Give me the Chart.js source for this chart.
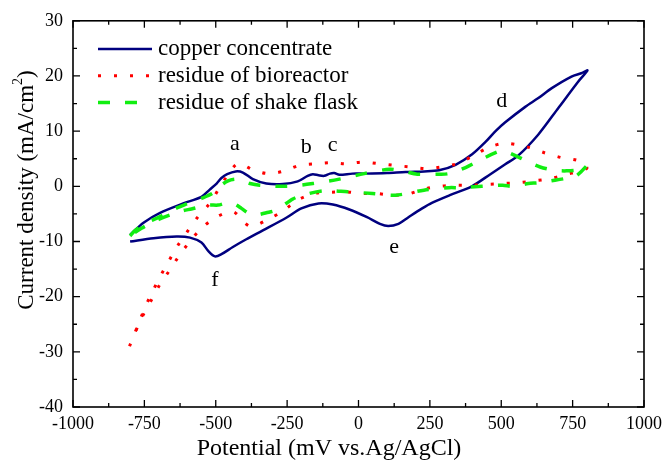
<!DOCTYPE html>
<html>
<head>
<meta charset="utf-8">
<script src="https://cdn.jsdelivr.net/npm/chart.js@4.4.0/dist/chart.umd.min.js"></script>
<style>
  html, body { margin: 0; padding: 0; background: #fff; }
</style>
</head>
<body>
<canvas id="cvChart" width="668" height="461"></canvas>
<script>
// cyclic voltammograms, potential in mV, current density in mA/cm2
const copperX = [-800, -718, -637, -590, -550, -525, -503, -480, -440, -393, -335, -253, -200, -140, -90, -32, 30, 75, 104, 140, 175, 223, 257, 320, 397, 462, 514, 560, 630, 700, 770, 802,
                 780, 746, 677, 630, 584, 514, 480, 444, 398, 340, 282, 230, 165, 100, 26, -21, -67, -85, -100, -120, -140, -160, -178, -213, -265, -323, -370, -405, -430, -460, -480, -497, -521, -550, -614, -695, -753, -800];
const copperY = [-10, -9.4, -9.1, -9.3, -10.2, -11.8, -12.7, -12.3, -11, -9.6, -8.0, -5.7, -4.0, -3.1, -3.3, -4.2, -5.6, -6.8, -7.2, -6.8, -5.6, -4.0, -3.0, -1.6, 0, 2.2, 4, 5.6, 9.4, 14.2, 19, 21,
                 20.5, 19.9, 17.8, 16.0, 14.4, 11.6, 10.0, 8.0, 5.8, 3.9, 2.9, 2.7, 2.6, 2.4, 2.3, 2.3, 2.1, 2.4, 2.3, 1.9, 2.0, 2.2, 1.9, 0.9, 0.4, 0.5, 1.3, 2.5, 2.7, 2.2, 1.5, 0.5, -0.6, -1.9, -3.1, -4.8, -6.6, -8.8];

const bioX = [-802, -782, -762, -741, -718, -692, -664, -635, -602, -565, -521, -490, -460, -422, -370, -317, -259, -207, -149, -96, -44, 14, 72, 125, 183, 237, 291, 345, 404, 458, 514, 569, 601, 656, 711, 767, 790, 800,
              765, 729, 672, 616, 560, 505, 452, 395, 340, 285, 229, 173, 119, 63, 8, -44, -102, -155, -213, -265, -321, -375, -399, -439, -495, -550, -594, -631, -664, -697, -723, -751, -775, -792];
const bioY = [-29, -26.4, -23.8, -21.2, -18.7, -16.1, -13.5, -10.9, -8.4, -5.7, -3.1, -0.5, 1.9, 4.1, 3.0, 2.3, 2.8, 3.8, 4.1, 4.3, 4.1, 4.4, 4.1, 3.8, 3.5, 3.2, 3.5, 4.1, 5.6, 7.1, 7.8, 7.4, 7.0, 6.0, 5.2, 4.7, 4.0, 3.3,
              2.6, 2.2, 1.4, 1.0, 0.65, 0.5, 0.35, 0.2, 0.2, 0, -0.5, -1.4, -1.6, -1.3, -1.3, -1.0, -1.1, -1.3, -2.5, -4.5, -6.1, -7.3, -6.6, -4.6, -5.5, -7.6, -10.2, -12.8, -15.4, -17.9, -20.4, -23.0, -25.6, -28.3];

const flaskX = [-800, -782, -750, -695, -640, -602, -550, -509, -486, -457, -430, -410, -380, -346, -253, -160, -67, 20, 110, 160, 206, 281, 316, 375, 409, 485, 510, 560, 600, 636, 688, 729, 781, 799,
                760, 723, 688, 630, 595, 540, 505, 432, 357, 316, 229, 130, 49, -38, -122, -195, -230, -288, -323, -360, -381, -410, -434, -460, -492, -527, -585, -620, -700, -760, -800];
const flaskY = [-9, -8.0, -6.8, -5.5, -4.0, -3.2, -2.2, -1.2, 0, 1.0, 1.3, 1.1, 0.5, 0.2, 0, 0.5, 1.3, 2.3, 3.1, 2.7, 2.2, 2.2, 2.3, 3.4, 4.3, 6.2, 6.4, 5.3, 4.3, 3.5, 2.9, 2.8, 3.1, 3.7,
                1.8, 1.4, 1.1, 0.65, 0.5, 0, 0.2, 0, -0.25, -0.25, -0.7, -1.6, -1.3, -1.0, -0.8, -1.6, -2.3, -4.3, -4.8, -5.2, -5.0, -4.0, -3.2, -3.0, -3.4, -3.4, -4.1, -4.5, -6.0, -7.6, -9];

const seriesNames = ["copper concentrate", "residue of bioreactor", "residue of shake flask"];

// letters marking the redox peaks
const peakNames = ["a", "b", "c", "d", "e", "f"];
const peakX = [-433, -183, -91, 502, 125, -503];
const peakY = [7.6, 7.0, 7.5, 15.4, -11, -17];

const xTicks = { min: -1000, max: 1000, step: 250 };
const yTicks = { min: -40, max: 30, step: 10 };

const SERIF = "'Liberation Serif', 'Times New Roman', serif";

function toPoints(xs, ys) {
    return xs.map((x, i) => ({ x: x, y: ys[i] }));
}

const lineStyles = [
    { color: "#00007f", width: 2.5, dash: [] },
    { color: "#ff0000", width: 3, dash: [3, 13] },
    { color: "#11ee11", width: 3.5, dash: [12, 15] }
];

// frame, inward ticks, legend, peak letters and axis titles
const decorPlugin = {
    id: "decor",
    afterDraw(chart) {
        const ctx = chart.ctx;
        const area = chart.chartArea;
        const sx = chart.scales.x;
        const sy = chart.scales.y;
        ctx.save();

        ctx.strokeStyle = "#000";
        ctx.lineWidth = 1.6;
        ctx.setLineDash([]);
        ctx.strokeRect(area.left, area.top, area.right - area.left, area.bottom - area.top);

        ctx.lineWidth = 1.3;
        ctx.beginPath();
        for (let v = xTicks.min; v <= xTicks.max; v += xTicks.step / 2) {
            const px = sx.getPixelForValue(v);
            const len = (v % xTicks.step === 0) ? 7 : 4;
            ctx.moveTo(px, area.bottom); ctx.lineTo(px, area.bottom - len);
            ctx.moveTo(px, area.top); ctx.lineTo(px, area.top + len);
        }
        for (let v = yTicks.min; v <= yTicks.max; v += yTicks.step / 2) {
            const py = sy.getPixelForValue(v);
            const len = (v % yTicks.step === 0) ? 7 : 4;
            ctx.moveTo(area.left, py); ctx.lineTo(area.left + len, py);
            ctx.moveTo(area.right, py); ctx.lineTo(area.right - len, py);
        }
        ctx.stroke();

        // legend
        const legX = 98, legY = 49, legGap = 26.8;
        ctx.font = "23px " + SERIF;
        ctx.textBaseline = "middle";
        ctx.textAlign = "left";
        seriesNames.forEach((name, i) => {
            const st = lineStyles[i];
            const y = legY + i * legGap;
            ctx.strokeStyle = st.color;
            ctx.lineWidth = st.width;
            ctx.setLineDash(st.dash);
            ctx.beginPath();
            ctx.moveTo(legX, y);
            ctx.lineTo(legX + 54, y);
            ctx.stroke();
            ctx.setLineDash([]);
            ctx.fillStyle = "#000";
            ctx.fillText(name, legX + 60, y);
        });

        // peak letters
        ctx.font = "22px " + SERIF;
        ctx.textAlign = "center";
        peakNames.forEach((p, i) => {
            ctx.fillText(p, sx.getPixelForValue(peakX[i]), sy.getPixelForValue(peakY[i]));
        });

        // axis titles
        ctx.font = "24px " + SERIF;
        ctx.textBaseline = "middle";
        ctx.fillText("Potential (mV vs.Ag/AgCl)", 329, 449);

        ctx.translate(25, 190);
        ctx.rotate(-Math.PI / 2);
        const mainTxt = "Current density (mA/cm";
        ctx.font = "23px " + SERIF;
        const w1 = ctx.measureText(mainTxt).width;
        ctx.font = "14px " + SERIF;
        const w2 = ctx.measureText("2").width;
        ctx.font = "23px " + SERIF;
        const w3 = ctx.measureText(")").width;
        let x0 = -(w1 + w2 + w3) / 2;
        ctx.textAlign = "left";
        ctx.textBaseline = "alphabetic";
        ctx.fillText(mainTxt, x0, 8);
        ctx.font = "14px " + SERIF;
        ctx.fillText("2", x0 + w1, -3);
        ctx.font = "23px " + SERIF;
        ctx.fillText(")", x0 + w1 + w2, 8);

        ctx.restore();
    }
};

const datasets = [
    { data: toPoints(copperX, copperY) },
    { data: toPoints(bioX, bioY) },
    { data: toPoints(flaskX, flaskY) }
].map((ds, i) => Object.assign(ds, {
    label: seriesNames[i],
    showLine: true,
    borderColor: lineStyles[i].color,
    borderWidth: lineStyles[i].width,
    borderDash: lineStyles[i].dash,
    borderCapStyle: "butt",
    pointRadius: 0,
    tension: 0.3,
    fill: false
}));

new Chart(document.getElementById("cvChart"), {
    type: "scatter",
    data: { datasets: datasets.slice().reverse() },
    options: {
        responsive: false,
        animation: false,
        layout: { padding: { left: 0, right: 22, top: 19, bottom: 0 } },
        plugins: { legend: { display: false }, tooltip: { enabled: false } },
        scales: {
            x: {
                min: xTicks.min, max: xTicks.max,
                grid: { display: false, drawTicks: false },
                border: { display: false },
                ticks: { stepSize: xTicks.step, padding: 6, color: "#000", font: { family: SERIF, size: 18 }, maxRotation: 0,
                         callback: v => String(v) },
                afterFit(scale) { scale.height = 54; }
            },
            y: {
                min: yTicks.min, max: yTicks.max,
                grid: { display: false, drawTicks: false },
                border: { display: false },
                ticks: { stepSize: yTicks.step, padding: 10, color: "#000", font: { family: SERIF, size: 18 },
                         callback: v => String(v) },
                afterFit(scale) { scale.width = 73; }
            }
        }
    },
    plugins: [decorPlugin]
});
</script>
</body>
</html>
